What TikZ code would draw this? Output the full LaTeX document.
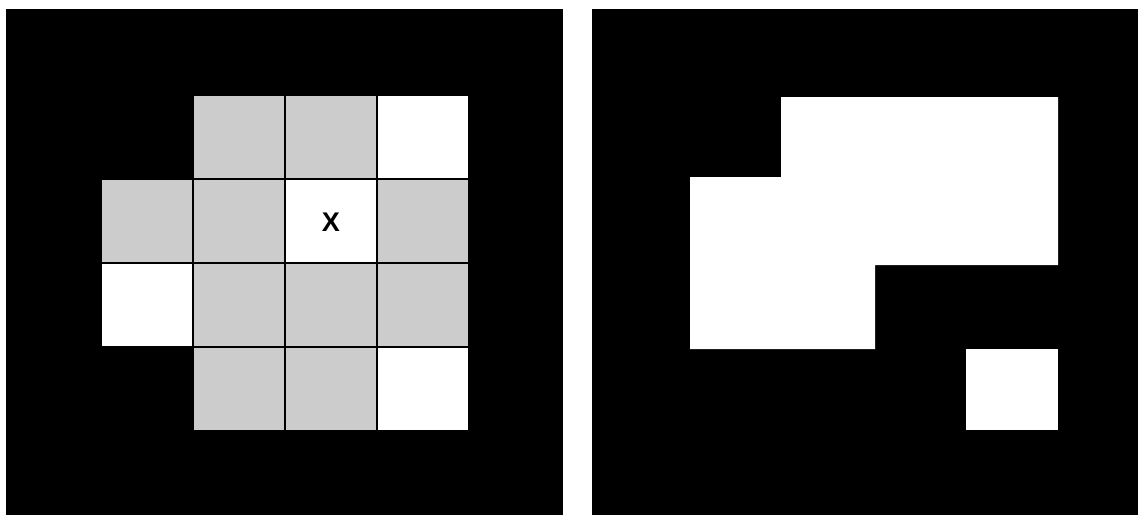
\documentclass[tikz,border=0pt]{standalone}
\usepackage{fontspec}
\setmainfont{Liberation Sans}
\newfontfamily\xfont{Liberation Sans Bold}
\definecolor{cellgrey}{HTML}{CCCCCC}
\tikzset{
  panel/.style={fill=black},
  greycell/.style={fill=cellgrey, draw=black, line width=1.2pt},
  whitecell/.style={fill=white, draw=black, line width=1.2pt},
  whiteshape/.style={fill=white},
}
\begin{document}
\begin{tikzpicture}[x=1pt,y=-1pt]
\useasboundingbox (0,0) rectangle (1138,515);
\fill[white] (0,0) rectangle (1138,515);
% panels
\fill[panel] (6,9) rectangle (563,515);
\fill[panel] (592,9) rectangle (1138,515);
% left grid: columns 101,193,285,377,469 ; rows 95,179,263,347,431
% row 0
\path[greycell] (193,95) rectangle (285,179);
\path[greycell] (285,95) rectangle (377,179);
\path[whitecell] (377,95) rectangle (469,179);
% row 1
\path[greycell] (101,179) rectangle (193,263);
\path[greycell] (193,179) rectangle (285,263);
\path[whitecell] (285,179) rectangle (377,263);
\path[greycell] (377,179) rectangle (469,263);
% row 2
\path[whitecell] (101,263) rectangle (193,347);
\path[greycell] (193,263) rectangle (285,347);
\path[greycell] (285,263) rectangle (377,347);
\path[greycell] (377,263) rectangle (469,347);
% row 3
\path[greycell] (193,347) rectangle (285,431);
\path[greycell] (285,347) rectangle (377,431);
\path[whitecell] (377,347) rectangle (469,431);
\node[font=\xfont\fontsize{27}{27}\selectfont] (x) at (331,222) {X};
% right panel shape
\fill[whiteshape] (781,97) -- (1058,97) -- (1058,265) -- (875,265) -- (875,349)
  -- (690,349) -- (690,177) -- (781,177) -- cycle;
\fill[whiteshape] (966,349) rectangle (1058,430);
\end{tikzpicture}
\end{document}
